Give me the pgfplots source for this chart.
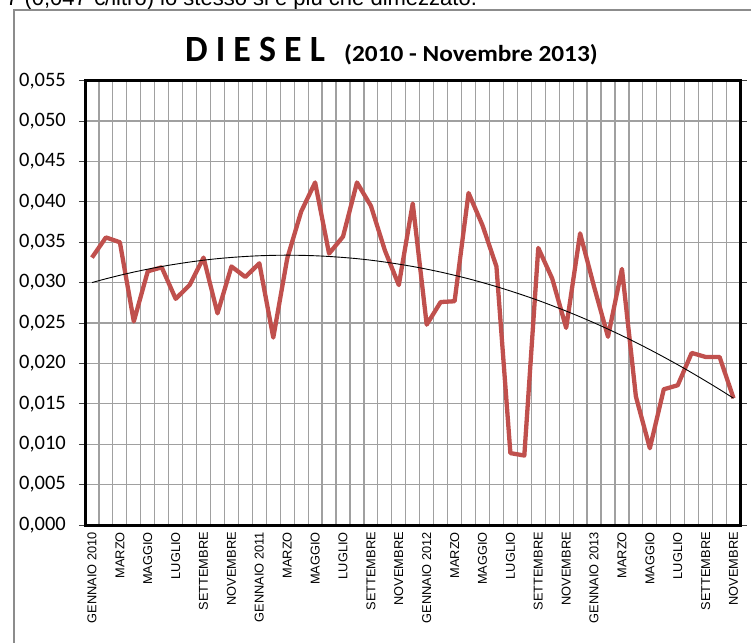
\documentclass[border=0pt]{standalone}
\usepackage{fontspec}
\setmainfont{Carlito}
\newfontfamily\arialf{Liberation Sans}
\usepackage{pgfplots}
\pgfplotsset{compat=1.18}

\definecolor{dieselred}{RGB}{192,80,77}
\definecolor{gridgray}{RGB}{160,160,160}
\definecolor{framegray}{RGB}{140,140,140}

\begin{document}
\begin{tikzpicture}[x=1pt,y=1pt]
\useasboundingbox (0,0) rectangle (751,642);
\clip (0,0) rectangle (751,642);

% text above the chart frame (cut by the page edge)
\node[anchor=base west, inner sep=0pt, font=\arialf\fontsize{22}{26}\selectfont]
  at (6,636) {7 (0,047 €/litro) lo stesso si è più che dimezzato.};

% chart frame
\draw[framegray, line width=1.5pt] (14,-20) -- (14,632) -- (770,632);

% title
\node[anchor=base, inner sep=0pt, font=\bfseries\fontsize{37}{40}\selectfont, xscale=0.97]
  at (255,580) {D I E S E L};
\node[anchor=base west, inner sep=0pt, font=\bfseries\fontsize{23}{26}\selectfont, xscale=1.1]
  at (344,580) {(2010 - Novembre 2013)};

\begin{axis}[
  at={(85pt,117pt)}, anchor=south west,
  scale only axis, width=655.5pt, height=444.3pt,
  xmin=0.5, xmax=47.5, ymin=0, ymax=0.055,
  axis line style={black, line width=3pt},
  xtick={1,3,...,47},
  xticklabels={GENNAIO 2010,MARZO,MAGGIO,LUGLIO,SETTEMBRE,NOVEMBRE,
               GENNAIO 2011,MARZO,MAGGIO,LUGLIO,SETTEMBRE,NOVEMBRE,
               GENNAIO 2012,MARZO,MAGGIO,LUGLIO,SETTEMBRE,NOVEMBRE,
               GENNAIO 2013,MARZO,MAGGIO,LUGLIO,SETTEMBRE,NOVEMBRE},
  minor xtick={0.5,1.5,...,47.5},
  xminorgrids=true, xmajorgrids=false,
  ytick={0,0.005,...,0.055},
  ymajorgrids=true,
  grid style={gridgray, line width=1.2pt},
  minor grid style={gridgray, line width=1.2pt},
  tick align=outside,
  major tick length=6pt, minor tick length=5pt,
  tick style={black!75, line width=0.9pt},
  xtick style={draw=none},
  scaled y ticks=false,
  /pgf/number format/fixed,
  /pgf/number format/fixed zerofill,
  /pgf/number format/precision=3,
  /pgf/number format/use comma,
  /pgf/number format/assume math mode=true,
  yticklabel style={font=\fontsize{20.5}{22}\selectfont, inner sep=0pt, xshift=-13pt},
  xticklabel style={font=\arialf\fontsize{12.8}{14}\selectfont, yshift=-1pt,
    rotate=90, anchor=east, inner sep=0pt},
  clip=false,
]
% monthly values
\addplot[dieselred, line width=4.3pt, line join=round, mark=none] coordinates {
 (1,0.0331) (2,0.0356) (3,0.0350) (4,0.0252) (5,0.0314) (6,0.0319)
 (7,0.0280) (8,0.0297) (9,0.0331) (10,0.0262) (11,0.0320) (12,0.0307)
 (13,0.0324) (14,0.0232) (15,0.0330) (16,0.0388) (17,0.0424) (18,0.0336)
 (19,0.0357) (20,0.0424) (21,0.0395) (22,0.0340) (23,0.0297) (24,0.0398)
 (25,0.0248) (26,0.0276) (27,0.0277) (28,0.0411) (29,0.0371) (30,0.0320)
 (31,0.0089) (32,0.0086) (33,0.0343) (34,0.0305) (35,0.0244) (36,0.0361)
 (37,0.0295) (38,0.0233) (39,0.0317) (40,0.0159) (41,0.0095) (42,0.0168)
 (43,0.0173) (44,0.0213) (45,0.0208) (46,0.0208) (47,0.0157)
};
% trend line
\addplot[black, line width=0.9pt, smooth, mark=none] coordinates {
 (1,0.03001) (2,0.03048) (3,0.03091) (4,0.03131) (5,0.03167) (6,0.03200)
 (7,0.03229) (8,0.03255) (9,0.03278) (10,0.03297) (11,0.03312) (12,0.03324)
 (13,0.03333) (14,0.03338) (15,0.03340) (16,0.03338) (17,0.03333) (18,0.03324)
 (19,0.03312) (20,0.03297) (21,0.03278) (22,0.03255) (23,0.03229) (24,0.03200)
 (25,0.03167) (26,0.03131) (27,0.03091) (28,0.03048) (29,0.03001) (30,0.02951)
 (31,0.02897) (32,0.02840) (33,0.02780) (34,0.02715) (35,0.02648) (36,0.02577)
 (37,0.02503) (38,0.02425) (39,0.02344) (40,0.02259) (41,0.02171) (42,0.02079)
 (43,0.01984) (44,0.01885) (45,0.01783) (46,0.01678) (47,0.01569)
};
\end{axis}
\end{tikzpicture}
\end{document}
